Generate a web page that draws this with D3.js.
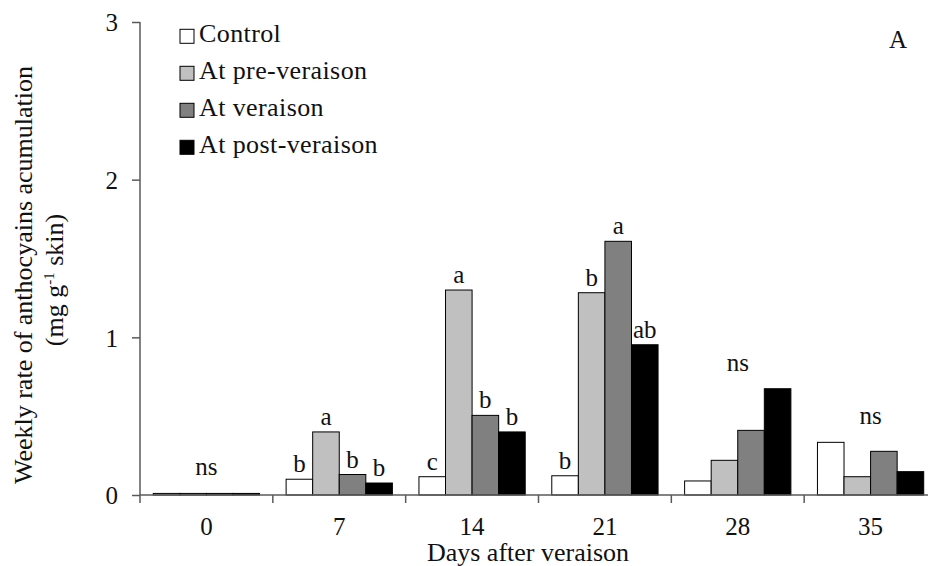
<!DOCTYPE html>
<html>
<head>
<meta charset="utf-8">
<script src="https://cdn.jsdelivr.net/npm/d3@7"></script>
<style>
  html, body { margin: 0; padding: 0; background: #fff; }
</style>
</head>
<body>
<svg id="chart" width="928" height="566"></svg>
<script>
// Days after veraison
const days = ["0", "7", "14", "21", "28", "35"];
// Treatments
const series = ["Control", "At pre-veraison", "At veraison", "At post-veraison"];
const colors = ["#ffffff", "#c0c0c0", "#808080", "#000000"];

// Weekly rate of anthocyanin accumulation (mg g-1 skin), one array per treatment
const control      = [0.01, 0.10, 0.116, 0.122, 0.089, 0.334];
const preVeraison  = [0.01, 0.40, 1.30, 1.283, 0.22, 0.116];
const atVeraison   = [0.01, 0.13, 0.505, 1.609, 0.41, 0.277];
const postVeraison = [0.01, 0.076, 0.40, 0.953, 0.674, 0.148];

// Significance letters per bar (empty where a group is not significant)
const lettersControl = ["", "b", "c", "b", "", ""];
const lettersPre     = ["", "a", "a", "b", "", ""];
const lettersVer     = ["", "b", "b", "a", "", ""];
const lettersPost    = ["", "b", "b", "ab", "", ""];
// Groups with no significant difference
const nsDays = ["0", "28", "35"];

const yTicks = [0, 1, 2, 3];

const values = [control, preVeraison, atVeraison, postVeraison];
const letters = [lettersControl, lettersPre, lettersVer, lettersPost];

const FONT = "Liberation Serif";
const FS = 25;
const ink = "#111";
const axisColor = "#5a5a5a";

const svg = d3.select("#chart");

function label(sel, size) {
  return sel.style("font-family", FONT)
    .style("font-size", (size || FS) + "px")
    .attr("fill", ink);
}

const x0 = d3.scaleBand().domain(days).range([140, 937]);
// each group fills the middle 80% of its day band
const x1 = d3.scaleBand().domain(series)
  .range([x0.bandwidth() * 0.1, x0.bandwidth() * 0.9]);
const y = d3.scaleLinear().domain([0, 3]).range([495, 22]);

// Bars with significance letters
days.forEach((d, i) => {
  const g = svg.append("g").attr("transform", `translate(${x0(d)},0)`);
  series.forEach((s, j) => {
    const v = values[j][i];
    g.append("rect")
      .attr("x", x1(s))
      .attr("y", y(v))
      .attr("width", x1.bandwidth())
      .attr("height", y(0) - y(v))
      .attr("fill", colors[j])
      .attr("stroke", "#000")
      .attr("stroke-width", 1);
    const lab = letters[j][i];
    if (lab) {
      label(g.append("text"))
        .attr("x", x1(s) + x1.bandwidth() / 2)
        .attr("y", y(v) - 7)
        .attr("text-anchor", "middle")
        .text(lab);
    }
  });
  if (nsDays.includes(d)) {
    const top = d3.max(values, arr => arr[i]);
    label(g.append("text"))
      .attr("x", x0.bandwidth() / 2)
      .attr("y", y(top) - 18)
      .attr("text-anchor", "middle")
      .text("ns");
  }
});

// Y axis
const yAxis = svg.append("g")
  .attr("transform", "translate(140,0)")
  .call(d3.axisLeft(y).tickValues(yTicks).tickFormat(d3.format("d")).tickSize(8).tickPadding(14));
yAxis.selectAll("path, line").attr("stroke", axisColor).attr("stroke-width", 1.5);
yAxis.select("path").attr("d", `M0,${y(3)}V${y(0)}`);
yAxis.selectAll("text").call(label).attr("dy", "0.35em");

// X axis: labels centered in bands, ticks at band boundaries
svg.append("line")
  .attr("x1", 140).attr("x2", 937).attr("y1", y(0)).attr("y2", y(0))
  .attr("stroke", axisColor).attr("stroke-width", 1.5);
days.forEach(d => {
  svg.append("line")
    .attr("x1", x0(d)).attr("x2", x0(d))
    .attr("y1", y(0)).attr("y2", y(0) + 8)
    .attr("stroke", axisColor).attr("stroke-width", 1.5);
  label(svg.append("text"))
    .attr("x", x0(d) + x0.bandwidth() / 2)
    .attr("y", 535)
    .attr("text-anchor", "middle")
    .text(d);
});

// Axis titles
label(svg.append("text"), 26)
  .attr("x", 528).attr("y", 561)
  .attr("text-anchor", "middle")
  .text("Days after veraison");

label(svg.append("text"), 26)
  .attr("transform", "translate(32,275) rotate(-90)")
  .attr("text-anchor", "middle")
  .text("Weekly rate of anthocyains acumulation");

const yl2 = label(svg.append("text"), 26)
  .attr("transform", "translate(63,280) rotate(-90)")
  .attr("text-anchor", "middle");
yl2.append("tspan").text("(mg g");
yl2.append("tspan").attr("dy", -9).style("font-size", "15px").text("-1");
yl2.append("tspan").attr("dy", 9).text(" skin)");

// Panel letter
label(svg.append("text"))
  .attr("x", 898).attr("y", 48)
  .attr("text-anchor", "middle")
  .text("A");

// Legend
const legend = svg.append("g");
series.forEach((s, j) => {
  const base = 42.3 + j * 37;
  legend.append("rect")
    .attr("x", 180).attr("y", base - 13)
    .attr("width", 14).attr("height", 14)
    .attr("fill", colors[j]).attr("stroke", "#000").attr("stroke-width", 1);
  label(legend.append("text"), 26)
    .attr("x", 199).attr("y", base)
    .style("letter-spacing", "0.4px")
    .text(s);
});
</script>
</body>
</html>
